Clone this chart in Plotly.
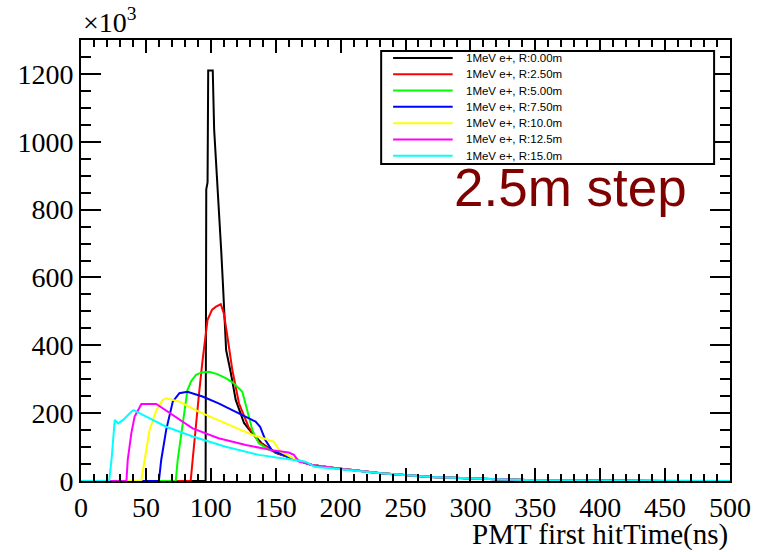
import plotly.graph_objects as go

# Series labels and colours
labels = ["1MeV e+, R:0.00m", "1MeV e+, R:2.50m", "1MeV e+, R:5.00m",
          "1MeV e+, R:7.50m", "1MeV e+, R:10.0m", "1MeV e+, R:12.5m",
          "1MeV e+, R:15.0m"]
colors = ["#000000", "#ff0000", "#00ff00", "#0000ff", "#ffff00", "#ff00ff", "#00ffff"]

# First-hit time (ns) and counts (x10^3) per source radius
t_r000 = [0, 96, 96.5, 97.5, 98, 101.5, 102.6, 105.9, 108, 109.3, 110.3, 111.8, 115.4,
          119.2, 125.6, 131, 139, 150, 162, 178, 195, 231, 270, 295, 320, 350, 400, 450, 500]
n_r000 = [0, 0, 860, 880, 1210, 1210, 1035, 838, 681, 584, 513, 386, 319,
          239, 171, 145, 112, 83, 68, 47, 38, 23, 12, 8, 5, 2, 0.5, 0.2, 0]

t_r250 = [0, 84.5, 86, 88, 91, 93.7, 97.5, 101, 104, 107.7, 110, 112.8, 116.6, 121.7,
          129, 137, 150, 162, 178, 195, 231, 270, 295, 320, 350, 400, 450, 500]
n_r250 = [0, 0, 62, 150, 260, 357, 475, 505, 514, 521, 495, 426, 327, 229,
          160, 115, 83, 68, 47, 38, 23, 12, 8, 5, 2, 0.5, 0.2, 0]

t_r500 = [0, 73, 74.5, 78.4, 82, 85, 88.6, 93, 98.8, 105, 111.5, 117, 121.7, 124.3,
          128, 132, 137, 145, 152, 162, 178, 195, 231, 270, 295, 320, 350, 400, 450, 500]
n_r500 = [0, 0, 62, 170, 268, 295, 313, 320, 322, 315, 303, 290, 273, 263,
          209, 150, 111, 92, 83, 68, 47, 38, 23, 12, 8, 5, 2, 0.5, 0.2, 0]

t_r750 = [0, 60, 61.8, 65.6, 70.7, 75.8, 82, 93.6, 106, 119, 128, 134.5, 138, 142,
          147, 152, 162, 178, 195, 231, 270, 295, 320, 350, 400, 450, 500]
n_r750 = [0, 0, 62, 150, 234, 259, 263, 249, 229, 204, 188, 175, 160, 121,
          91, 82, 68, 47, 38, 23, 12, 8, 5, 2, 0.5, 0.2, 0]

t_r1000 = [0, 46.4, 49, 52.8, 58, 63, 65.6, 75.8, 91, 111.5, 132, 148.5, 152, 155,
           162, 178, 195, 231, 270, 295, 320, 350, 400, 450, 500]
n_r1000 = [0, 0, 62, 150, 209, 239, 244, 234, 204, 170, 136, 116, 95, 84,
           70, 47, 38, 23, 12, 8, 5, 2, 0.5, 0.2, 0]

t_r1250 = [0, 35, 36, 38.8, 41.3, 46.5, 58, 70.7, 86, 106, 127, 147, 160, 164, 168,
           178, 195, 231, 270, 295, 320, 350, 400, 450, 500]
n_r1250 = [0, 0, 62, 141, 190, 227, 227, 195, 155, 126, 106, 91, 84, 77, 57,
           47, 38, 23, 12, 8, 5, 2, 0.5, 0.2, 0]

t_r1500 = [0, 21.7, 23.5, 26, 28.6, 32.4, 38.8, 40.6, 50.3, 65.6, 86, 111.5, 137,
           162.6, 173, 180, 190, 231, 270, 295, 320, 350, 400, 450, 500]
n_r1500 = [0, 0, 62, 180, 170, 180, 204, 209, 190, 160, 131, 101, 77,
           62, 57, 42, 38, 23, 12, 8, 5, 2, 0.5, 0.2, 0]

times = [t_r000, t_r250, t_r500, t_r750, t_r1000, t_r1250, t_r1500]
counts = [n_r000, n_r250, n_r500, n_r750, n_r1000, n_r1250, n_r1500]

x_ticks = [0, 50, 100, 150, 200, 250, 300, 350, 400, 450, 500]
y_ticks = [0, 200, 400, 600, 800, 1000, 1200]

fig = go.Figure()
for t, n, name, c in zip(times, counts, labels, colors):
    fig.add_trace(go.Scatter(x=t, y=n, mode="lines", name=name,
                             line=dict(color=c, width=2), showlegend=False))

serif = "Liberation Serif, Times New Roman, serif"
sans = "Liberation Sans, Arial, sans-serif"

axis_common = dict(showline=True, linecolor="black", linewidth=2, mirror="ticks",
                   ticks="inside", tickcolor="black", tickwidth=2,
                   showgrid=False, zeroline=False,
                   tickfont=dict(family=serif, size=28, color="black"))

fig.update_xaxes(range=[0, 500], tickvals=x_ticks, ticklen=13,
                 minor=dict(dtick=10, ticks="inside", ticklen=7, tickwidth=2,
                            tickcolor="black", showgrid=False),
                 **axis_common)
fig.update_yaxes(range=[0, 1300], tickvals=y_ticks, ticklen=20,
                 minor=dict(dtick=50, ticks="inside", ticklen=10, tickwidth=2,
                            tickcolor="black", showgrid=False),
                 **axis_common)

# Legend box drawn in paper coordinates
lx0, lx1, ly0, ly1 = 0.4625, 0.9755, 0.7188, 0.975
shapes = [dict(type="rect", xref="paper", yref="paper", x0=lx0, x1=lx1, y0=ly0, y1=ly1,
               line=dict(color="black", width=2), fillcolor="white", layer="above")]
annotations = []
row_top = 0.9594
row_step = 0.0370
for i, (name, c) in enumerate(zip(labels, colors)):
    yy = row_top - i * row_step
    shapes.append(dict(type="line", xref="paper", yref="paper", x0=0.4809, x1=0.5727,
                       y0=yy, y1=yy, line=dict(color=c, width=2), layer="above"))
    annotations.append(dict(xref="paper", yref="paper", x=0.5905, y=yy, text=name,
                            showarrow=False, xanchor="left", yanchor="middle",
                            font=dict(family=sans, size=11.5, color="black")))

annotations += [
    dict(xref="paper", yref="paper", x=1.0, y=-0.122, text="PMT first hitTime(ns)",
         showarrow=False, xanchor="right", yanchor="middle",
         font=dict(family=serif, size=29, color="black")),
    dict(xref="paper", yref="paper", x=0.0, y=1.0, text="×10<sup>3</sup>",
         showarrow=False, xanchor="left", yanchor="bottom",
         font=dict(family=serif, size=28, color="black")),
    dict(xref="paper", yref="paper", x=0.572, y=0.665, text="2.5m step",
         showarrow=False, xanchor="left", yanchor="middle",
         font=dict(family=sans, size=53, color="#800000")),
]

fig.update_layout(width=763, height=552, margin=dict(l=81, r=29, t=40, b=71),
                  paper_bgcolor="white", plot_bgcolor="white",
                  shapes=shapes, annotations=annotations)

fig.write_html("out.html")
